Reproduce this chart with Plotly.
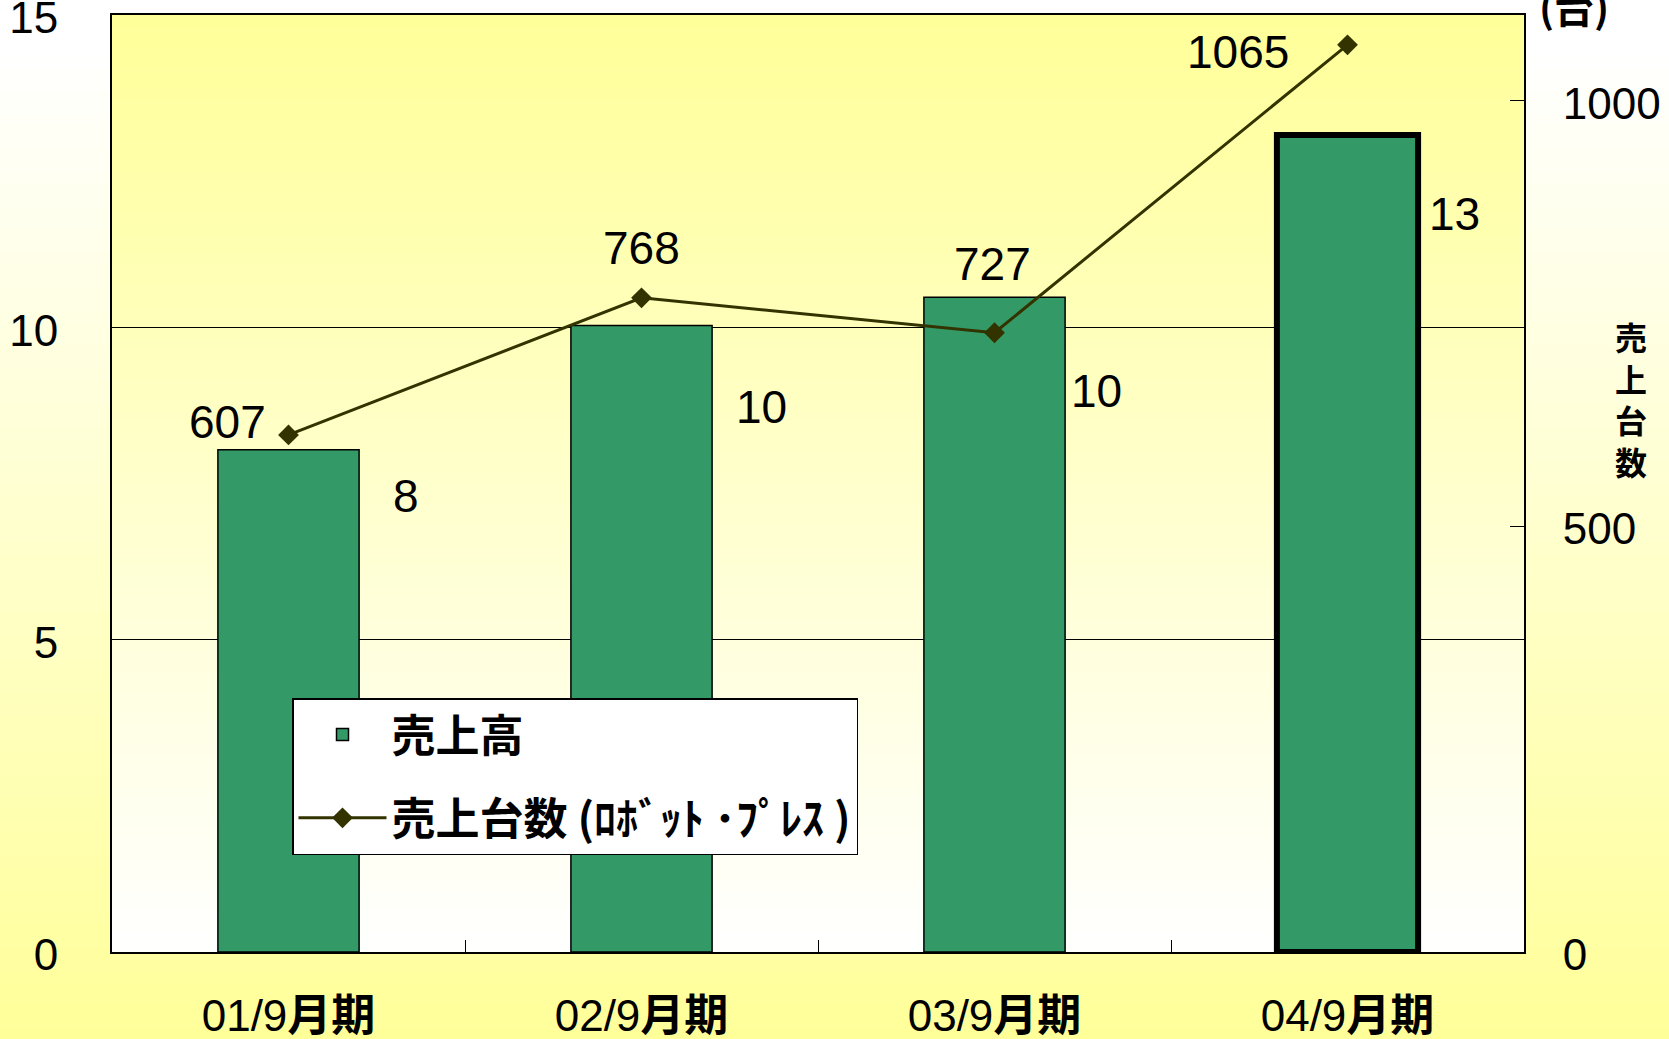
import plotly.graph_objects as go

# ---- data ----
categories = ["01/9月期", "02/9月期", "03/9月期", "04/9月期"]
tick_labels = ["01/9<b>月期</b>", "02/9<b>月期</b>", "03/9<b>月期</b>", "04/9<b>月期</b>"]
sales = [8.04, 10.03, 10.48, 13.08]          # 売上高 (left axis)
sales_labels = ["8", "10", "10", "13"]
units = [607, 768, 727, 1065]                # 売上台数 (right axis)
bar_name = "売上高"
line_name = "売上台数 (ﾛﾎﾞｯﾄ ･ﾌﾟﾚｽ )"
right_title = "売上台数"
right_unit = "(台)"

# ---- styles ----
FONT = "Liberation Sans, Arial, Noto Sans CJK JP, sans-serif"
CJK = "Noto Sans CJK JP"
BAR_COLOR = "#339966"
LINE_COLOR = "#333300"
W, H = 1669, 1039
OFF = 0  # body margin removed below
# target plot area in page pixels: left 112, right 1524, top 15, bottom 952
ML, MT = 112 - OFF, 15 - OFF
MR = W - (1524 - OFF)
MB = H - (952 - OFF)
PW, PH = W - ML - MR, H - MT - MB

def px_x(p):  # page pixel -> paper x
    return (p - OFF - ML) / PW

def px_y(p):  # page pixel (from top) -> paper y
    return 1 - (p - OFF - MT) / PH

fig = go.Figure()

# gradient backgrounds (style only)
N = 90
def mix(t):
    # t=0 -> #FFFF99, t=1 -> white
    t = min(1.0, max(0.0, t))
    b = int(round(153 + (255 - 153) * t))
    return f"rgb(255,255,{b})"

shapes = []
for i in range(N):
    f0 = i / N
    f1 = (i + 1) / N
    # paper: yellow at bottom (f=0), white at top
    shapes.append(dict(type="rect", xref="paper", yref="paper", x0=px_x(-20), x1=px_x(W + 20),
                       y0=px_y(H + 2 - f0 * (H + 4)), y1=px_y(H + 2 - f1 * (H + 4)) + 0.002,
                       fillcolor=mix((i + 0.5) / N * 1.05), line=dict(width=0), layer="below"))
for i in range(N):
    y0 = i / N
    y1 = min(1, (i + 1) / N + 0.002)
    tmid = (i + 0.5) / N
    # plot area: yellow at top, white at bottom
    shapes.append(dict(type="rect", xref="x domain", yref="y domain", x0=0, x1=1,
                       y0=y0, y1=y1, fillcolor=mix(1 - tmid), line=dict(width=0), layer="below"))

fig.add_trace(go.Bar(
    x=categories, y=sales, name=bar_name, width=0.4,
    marker=dict(color=BAR_COLOR, line=dict(color="#000000", width=[1.5, 1.5, 1.5, 6])),
    legendgroup="a", yaxis="y",
))
fig.add_trace(go.Scatter(
    x=categories, y=units, name=line_name, mode="lines+markers",
    line=dict(color=LINE_COLOR, width=3),
    marker=dict(symbol="diamond", size=16, color=LINE_COLOR),
    legendgroup="b", yaxis="y2",
))

annotations = []
bar_dx = [117, 120, 102, 107]
bar_dy = [-46, -82, -94, -79]
for c, v, t, dx, dy in zip(categories, sales, sales_labels, bar_dx, bar_dy):
    annotations.append(dict(x=c, y=v, xref="x", yref="y", text=t, showarrow=False,
                            xshift=dx, yshift=dy, font=dict(family=FONT, size=46, color="black")))
line_dx = [-61, 0, -2, -110]
line_dy = [13, 50, 69, -7]
for c, v, dx, dy in zip(categories, units, line_dx, line_dy):
    annotations.append(dict(x=c, y=v, xref="x", yref="y2", text=str(v), showarrow=False,
                            xshift=dx, yshift=dy, font=dict(family=FONT, size=46, color="black")))
# right axis vertical title (stacked characters)
annotations.append(dict(x=px_x(1631), y=px_y(398), xref="paper", yref="paper",
                        xanchor="center", yanchor="middle",
                        text="<br>".join(f"<b>{ch}</b>" for ch in right_title), showarrow=False,
                        font=dict(family=CJK, size=32, color="black")))
annotations.append(dict(x=px_x(1574), y=px_y(6), xref="paper", yref="paper",
                        xanchor="center", yanchor="middle",
                        text=f"<b>{right_unit}</b>", showarrow=False,
                        font=dict(family=CJK, size=40, color="black")))

fig.update_layout(
    width=W, height=H,
    margin=dict(l=ML, r=MR, t=MT, b=MB),
    paper_bgcolor="white", plot_bgcolor="rgba(0,0,0,0)",
    shapes=shapes, annotations=annotations,
    showlegend=True,
    legend=dict(x=px_x(292), y=px_y(698), xanchor="left", yanchor="top",
                bgcolor="white", bordercolor="black", borderwidth=1.5,
                font=dict(family=CJK, size=44, color="black", weight="bold"),
                tracegroupgap=23, itemwidth=88),
    xaxis=dict(type="category", tickvals=categories, ticktext=tick_labels,
               showline=True, linecolor="black", linewidth=2, mirror=True,
               ticks="inside", tickson="boundaries", ticklen=12, tickcolor="black",
               showgrid=False, tickfont=dict(family=FONT, size=44, color="black"),
               ticklabelstandoff=24, automargin=False),
    yaxis=dict(range=[0, 15], dtick=5, showgrid=True, gridcolor="black", gridwidth=1,
               showline=True, linecolor="black", linewidth=2, zeroline=False,
               ticks="", tickfont=dict(family=FONT, size=44, color="black"),
               ticklabelstandoff=43, ticklabelshift=3, automargin=False,
               ticklabeloverflow="allow"),
    yaxis2=dict(range=[0, 1100], tickvals=[0, 500, 1000], overlaying="y", side="right",
                showgrid=False, showline=True, linecolor="black", linewidth=2, zeroline=False,
                ticks="inside", ticklen=14, tickcolor="black",
                tickfont=dict(family=FONT, size=44, color="black"), ticklabelstandoff=28,
                ticklabelshift=3, automargin=False, ticklabeloverflow="allow"),
)

fig.write_html("out.html", config={"displayModeBar": False},
               post_script="document.body.style.margin='0';")
